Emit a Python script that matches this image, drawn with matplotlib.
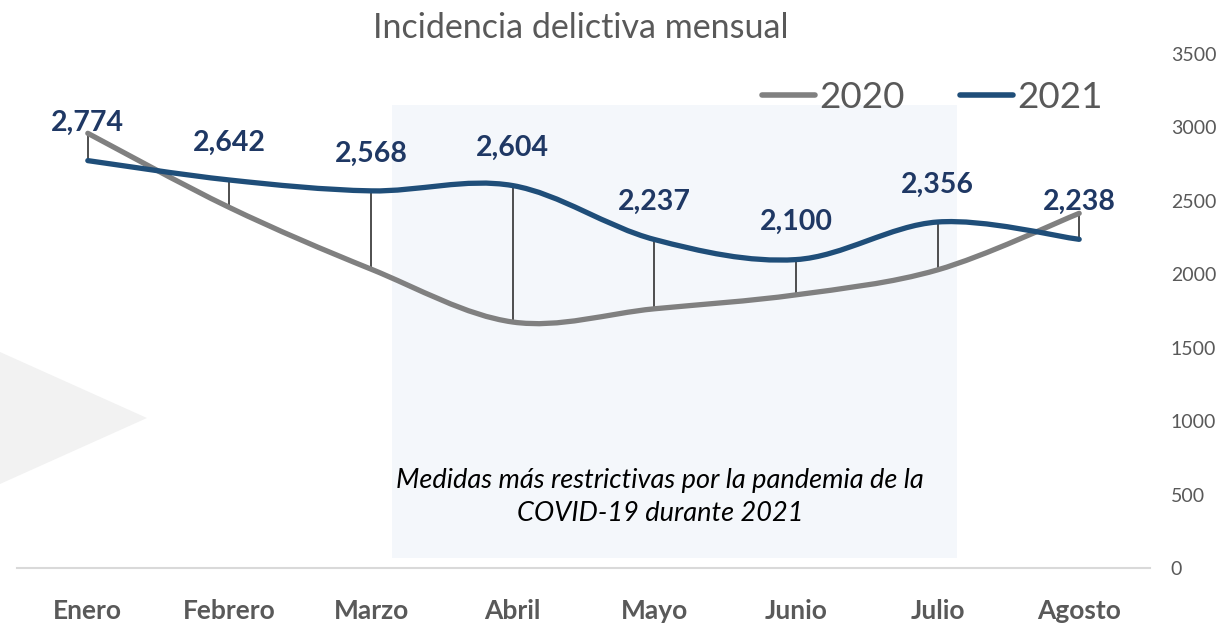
import matplotlib
matplotlib.use("Agg")
import matplotlib.pyplot as plt
from matplotlib.path import Path
from matplotlib.patches import PathPatch, Rectangle, Polygon
from matplotlib.lines import Line2D

plt.rcParams['font.family'] = ['Lato', 'DejaVu Sans']

months = ["Enero", "Febrero", "Marzo", "Abril", "Mayo", "Junio", "Julio", "Agosto"]
values_2020 = [2960, 2455, 2035, 1675, 1765, 1860, 2030, 2415]
values_2021 = [2774, 2642, 2568, 2604, 2237, 2100, 2356, 2238]
labels_2021 = ["2,774", "2,642", "2,568", "2,604", "2,237", "2,100", "2,356", "2,238"]
yticks = [0, 500, 1000, 1500, 2000, 2500, 3000, 3500]
title = "Incidencia delictiva mensual"
note = "Medidas más restrictivas por la pandemia de la\nCOVID-19 durante 2021"

C2020 = "#808080"
C2021 = "#1F4E79"
CLABEL = "#1F3864"
CTEXT = "#595959"

W, H = 1225, 625
fig = plt.figure(figsize=(W / 100, H / 100), dpi=100)

# decorative triangle on the left
tri = Polygon([(0, 1 - 352 / H), (147 / W, 1 - 418 / H), (0, 1 - 484 / H)],
              closed=True, transform=fig.transFigure, facecolor="#F2F2F2",
              edgecolor="none", zorder=0)
fig.patches.append(tri)

ax = fig.add_axes([17 / W, (H - 568) / H, (1150 - 17) / W, (568 - 54) / H])
ax.set_facecolor("none")
ax.set_xlim(-0.5, 7.5)
ax.set_ylim(0, 3500)

# shaded band
ax.add_patch(Rectangle((2.148, 68), 6.138 - 2.148, 3153 - 68,
                       facecolor="#F4F7FB", edgecolor="none", zorder=0))


def smooth_path(xs, ys):
    pts = list(zip(xs, ys))
    n = len(pts)
    verts = [pts[0]]
    codes = [Path.MOVETO]
    for i in range(n - 1):
        p0 = pts[i - 1] if i > 0 else pts[i]
        p1 = pts[i]
        p2 = pts[i + 1]
        p3 = pts[i + 2] if i + 2 < n else pts[i + 1]
        c1 = (p1[0] + (p2[0] - p0[0]) / 6, p1[1] + (p2[1] - p0[1]) / 6)
        c2 = (p2[0] - (p3[0] - p1[0]) / 6, p2[1] - (p3[1] - p1[1]) / 6)
        verts += [c1, c2, p2]
        codes += [Path.CURVE4] * 3
    return Path(verts, codes)


xs = list(range(len(months)))

# high-low lines
ax.vlines(xs, values_2020, values_2021, colors="#404040", linewidth=1.3, zorder=2)

for vals, col in [(values_2020, C2020), (values_2021, C2021)]:
    pp = PathPatch(smooth_path(xs, vals), facecolor="none", edgecolor=col,
                   linewidth=3.8, capstyle="round", joinstyle="round", zorder=3)
    ax.add_patch(pp)

for x, v, lab in zip(xs, values_2021, labels_2021):
    ax.annotate(lab, (x, v), xytext=(0, 27), textcoords="offset points",
                ha="center", va="center", fontsize=20.5, fontweight="bold",
                color=CLABEL, zorder=5)

# axes styling
for s in ["top", "left", "right"]:
    ax.spines[s].set_visible(False)
ax.spines["bottom"].set_color("#D9D9D9")
ax.spines["bottom"].set_linewidth(1.5)
ax.set_xticks(xs)
ax.set_xticklabels(months, fontsize=19, fontweight="bold", color=CTEXT)
ax.tick_params(axis="x", length=0, pad=22)
ax.yaxis.tick_right()
ax.set_yticks(yticks)
ax.set_yticklabels([str(t) for t in yticks], fontsize=14, color=CTEXT)
ax.tick_params(axis="y", length=0, pad=15)
for lbl in ax.get_yticklabels():
    lbl.set_horizontalalignment("left")

ax.text((660 - 17) / 141.6 - 0.5, (568 - 497) / 0.14686, note, ha="center",
        va="center", fontsize=19.5, fontstyle="italic", color="black",
        linespacing=1.4, zorder=4)

fig.text(581 / W, 1 - 28 / H, title, ha="center", va="center", fontsize=24.5,
         color=CTEXT)

handles = [Line2D([], [], color=C2020, linewidth=4, solid_capstyle="round"),
           Line2D([], [], color=C2021, linewidth=4, solid_capstyle="round")]
leg = fig.legend(handles, ["2020", "2021"], loc="center left",
                 bbox_to_anchor=(762 / W, 1 - 97 / H), ncol=2, frameon=False,
                 fontsize=26.5, handlelength=1.45, handletextpad=0.1,
                 columnspacing=1.5, borderaxespad=0, borderpad=0)
for t in leg.get_texts():
    t.set_color(CTEXT)

fig.savefig("out.png", dpi=100)
